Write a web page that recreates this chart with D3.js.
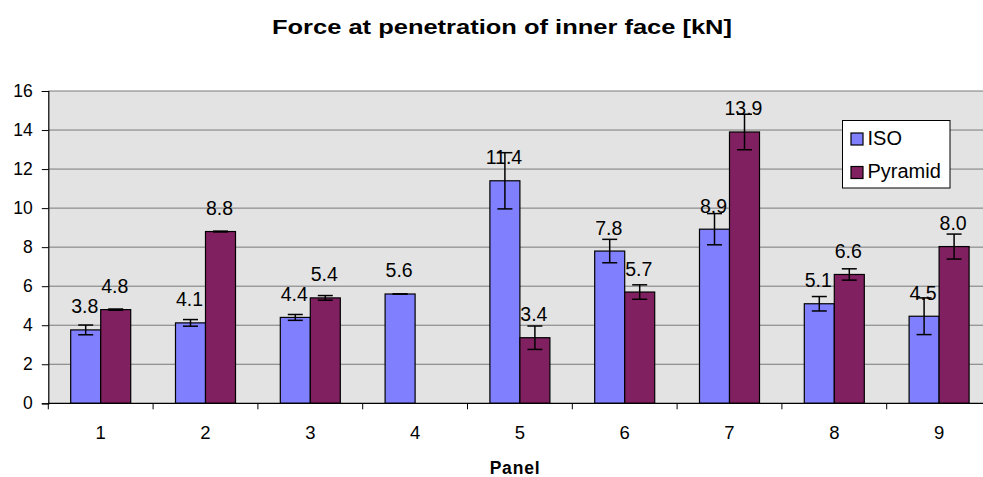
<!DOCTYPE html>
<html>
<head>
<meta charset="utf-8">
<script src="https://cdn.jsdelivr.net/npm/d3@7"></script>
<style>
  html, body { margin: 0; padding: 0; background: #fff; }
  svg { display: block; font-family: "Liberation Sans", Arial, sans-serif; }
</style>
</head>
<body>
<svg id="chart" width="983" height="477"></svg>
<script>
const categories = ["1", "2", "3", "4", "5", "6", "7", "8", "9"];
const seriesNames = ["ISO", "Pyramid"];
const isoValues = [3.76, 4.12, 4.4, 5.6, 11.4, 7.8, 8.92, 5.1, 4.46];
const pyramidValues = [4.8, 8.8, 5.4, null, 3.36, 5.7, 13.9, 6.6, 8.03];
const isoErrors = [0.25, 0.17, 0.15, 0.0, 1.44, 0.6, 0.8, 0.37, 0.94];
const pyramidErrors = [0.03, 0.02, 0.12, null, 0.6, 0.37, 0.91, 0.29, 0.64];
const yTicks = [0, 2, 4, 6, 8, 10, 12, 14, 16];
const titleText = "Force at penetration of inner face [kN]";
const xAxisTitle = "Panel";
const colors = ["#8080FF", "#802060"];

(function () {
const svg = d3.select("#chart");
const pLeft = 48.3, pTop = 91, pBottom = 403.3, catW = 104.8;
const pRight = pLeft + catW * categories.length;

const x = d3.scaleBand().domain(categories).range([pLeft, pRight]).paddingInner(0).paddingOuter(0);
const groupW = 60;
const xs = d3.scaleBand().domain(seriesNames).range([0, groupW]);
const y = d3.scaleLinear().domain([0, 16]).range([pBottom, pTop]);

svg.append("rect").attr("x", pLeft).attr("y", pTop).attr("width", pRight - pLeft).attr("height", pBottom - pTop).attr("fill", "#E3E3E3");

svg.append("g").selectAll("line").data(yTicks.filter(d => d > 0)).join("line")
  .attr("x1", pLeft).attr("x2", pRight)
  .attr("y1", d => y(d)).attr("y2", d => y(d))
  .attr("stroke", "#7a7a7a").attr("stroke-width", 1);

const rows = categories.map((c, i) => [
  { cat: c, s: "ISO", v: isoValues[i], e: isoErrors[i], color: colors[0] },
  { cat: c, s: "Pyramid", v: pyramidValues[i], e: pyramidErrors[i], color: colors[1] }
]).flat().filter(d => d.v != null);

const bx = d => x(d.cat) + (x.bandwidth() - groupW) / 2 + xs(d.s);

svg.append("g").selectAll("rect").data(rows).join("rect")
  .attr("x", d => bx(d)).attr("y", d => y(d.v))
  .attr("width", xs.bandwidth()).attr("height", d => y(0) - y(d.v))
  .attr("fill", d => d.color).attr("stroke", "#000").attr("stroke-width", 1.2);

const eg = svg.append("g").attr("stroke", "#000").attr("stroke-width", 1.5);
rows.forEach(d => {
  const cx = bx(d) + xs.bandwidth() / 2;
  eg.append("line").attr("x1", cx).attr("x2", cx).attr("y1", y(d.v + d.e)).attr("y2", y(d.v - d.e));
  [d.v + d.e, d.v - d.e].forEach(v => {
    eg.append("line").attr("x1", cx - 7.5).attr("x2", cx + 7.5).attr("y1", y(v)).attr("y2", y(v));
  });
});

svg.append("g").selectAll("text").data(rows).join("text")
  .attr("x", d => bx(d) + xs.bandwidth() / 2 - 1)
  .attr("y", d => y(d.v) - 16.5)
  .attr("text-anchor", "middle").attr("font-size", 19.5).attr("fill", "#000")
  .text(d => d.v.toFixed(1));

const yAxis = d3.axisLeft(y).tickValues(yTicks).tickSize(6.5).tickPadding(9).tickFormat(d3.format("d"));
const yg = svg.append("g").attr("transform", `translate(${pLeft},0)`).call(yAxis);
yg.select(".domain").attr("stroke", "#000").attr("stroke-width", 1.2);
yg.selectAll(".tick line").attr("stroke", "#000");
yg.selectAll(".tick text").attr("font-size", 17.5).attr("font-family", "Liberation Sans, Arial, sans-serif").attr("fill", "#000");

const xg = svg.append("g").attr("transform", `translate(0,${pBottom})`);
xg.append("line").attr("x1", pLeft).attr("x2", pRight).attr("y1", 0).attr("y2", 0).attr("stroke", "#000").attr("stroke-width", 1.2);
const tickPos = d3.range(categories.length + 1).map(i => pLeft + i * x.step());
xg.selectAll("line.t").data(tickPos).join("line").attr("class", "t")
  .attr("x1", d => d).attr("x2", d => d).attr("y1", 0).attr("y2", 6).attr("stroke", "#000");
xg.selectAll("text").data(categories).join("text")
  .attr("x", d => x(d) + x.bandwidth() / 2).attr("y", 36)
  .attr("text-anchor", "middle").attr("font-size", 18.5).attr("fill", "#000")
  .text(d => d);

svg.append("text").attr("x", 502).attr("y", 34).attr("text-anchor", "middle")
  .attr("font-size", 21).attr("font-weight", "bold")
  .attr("textLength", 460).attr("lengthAdjust", "spacingAndGlyphs").text(titleText);
svg.append("text").attr("x", 515).attr("y", 474).attr("text-anchor", "middle")
  .attr("font-size", 17.5).attr("font-weight", "bold").attr("letter-spacing", 0.8).text(xAxisTitle);

const lg = svg.append("g");
lg.append("rect").attr("x", 842.5).attr("y", 120.5).attr("width", 107.5).attr("height", 67.5)
  .attr("fill", "#fff").attr("stroke", "#000").attr("stroke-width", 1);
seriesNames.forEach((s, i) => {
  const yy = 133 + i * 33.5;
  lg.append("rect").attr("x", 851).attr("y", yy).attr("width", 12).attr("height", 12)
    .attr("fill", colors[i]).attr("stroke", "#000").attr("stroke-width", 1.2);
  lg.append("text").attr("x", 867.5).attr("y", yy + 11.5).attr("font-size", 20).text(s);
});
})();
</script>
</body>
</html>
